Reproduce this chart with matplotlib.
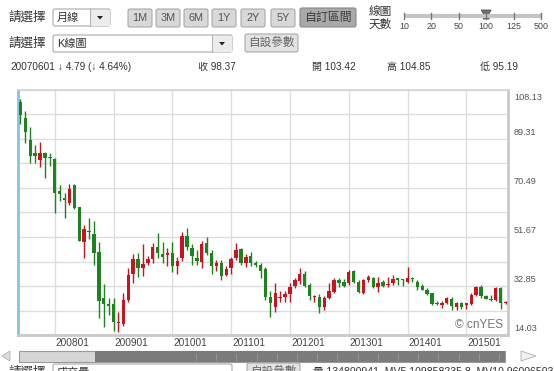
import matplotlib
matplotlib.use('Agg')
import matplotlib.pyplot as plt
import matplotlib.transforms as mtransforms
from matplotlib.patches import Rectangle, FancyBboxPatch, Polygon
import numpy as np

plt.rcParams['font.family'] = ['Liberation Sans', 'Noto Sans CJK TC']

W, H = 554, 371

# monthly K-line, 2007/06 .. 2015/09
first_year, first_month = 2007, 6
opens = [103.42, 97.3, 88.9, 83.8, 81.2, 84.0, 82.5, 81.6, 69.3, 66.5,
         64.6, 71.6, 63.1, 49.9, 54.0, 52.7, 46.0, 28.1, 25.8, 25.9,
         18.5, 18.1, 27.5, 37.5, 43.1, 39.9, 41.6, 43.1, 47.9, 45.1,
         44.8, 45.4, 40.5, 43.5, 52.0, 47.3, 43.5, 42.2, 49.2, 45.4,
         40.7, 41.8, 37.2, 39.6, 43.5, 46.9, 41.8, 44.4, 41.8, 40.9,
         39.3, 28.5, 24.8, 28.3, 28.6, 29.8, 32.8, 34.9, 37.5, 33.4,
         28.5, 28.5, 24.8, 28.1, 30.7, 35.1, 34.5, 34.1, 38.7, 34.5,
         30.2, 35.1, 35.8, 32.3, 34.5, 33.1, 33.9, 35.6, 35.4, 34.5,
         35.6, 34.5, 32.8, 31.5, 30.0, 26.0, 25.6, 26.4, 27.7, 24.9,
         26.2, 25.7, 25.9, 29.4, 32.3, 29.0, 27.7, 27.5, 31.9, 26.4]
highs = [104.85, 100.0, 94.0, 87.0, 88.0, 84.5, 84.0, 82.0, 71.6, 68.4,
         72.0, 72.0, 63.1, 56.3, 59.1, 57.9, 49.9, 33.5, 28.1, 28.1,
         23.0, 30.0, 39.9, 45.0, 45.4, 48.8, 44.5, 49.2, 53.1, 49.9,
         47.3, 49.9, 44.0, 53.6, 55.0, 48.8, 46.7, 50.1, 51.8, 46.7,
         42.8, 42.8, 40.5, 44.1, 49.2, 47.3, 45.0, 46.0, 42.5, 41.8,
         40.0, 31.0, 34.0, 31.0, 31.0, 33.9, 35.8, 39.6, 38.5, 34.0,
         29.5, 29.7, 29.0, 33.9, 36.1, 36.1, 35.5, 38.9, 38.9, 35.1,
         35.5, 37.2, 36.4, 36.4, 35.1, 36.4, 36.9, 35.9, 35.5, 40.0,
         36.4, 35.1, 33.6, 32.0, 30.3, 27.2, 27.2, 28.5, 28.5, 26.6,
         26.6, 26.4, 30.0, 33.0, 33.2, 29.5, 29.4, 32.3, 32.3, 27.0]
lows = [95.19, 87.8, 80.0, 80.0, 78.7, 74.5, 79.0, 61.0, 65.5, 59.1,
        64.0, 62.5, 50.0, 43.5, 50.9, 41.1, 20.4, 17.2, 21.6, 15.6,
        15.3, 17.5, 26.8, 33.9, 36.2, 36.6, 41.0, 41.6, 43.5, 41.6,
        40.5, 38.2, 37.4, 42.5, 46.7, 40.8, 41.0, 39.6, 44.8, 37.4,
        38.6, 35.3, 36.6, 37.3, 42.9, 41.1, 40.0, 40.5, 40.0, 35.8,
        27.3, 21.0, 23.0, 26.6, 26.8, 26.8, 32.2, 33.5, 32.5, 27.5,
        26.8, 22.5, 23.5, 27.7, 30.3, 32.6, 32.5, 33.2, 33.9, 30.0,
        29.7, 34.3, 31.9, 30.7, 32.3, 32.3, 33.4, 33.2, 32.9, 34.1,
        34.3, 31.2, 31.2, 29.4, 25.6, 25.6, 24.3, 25.9, 23.6, 23.5,
        23.9, 24.2, 25.6, 29.0, 28.4, 27.7, 27.0, 27.0, 23.9, 25.8]
closes = [98.37, 92.1, 82.9, 82.9, 83.8, 82.1, 82.0, 68.7, 68.1, 66.0,
          70.1, 62.7, 50.1, 54.6, 53.5, 45.4, 27.1, 25.8, 25.3, 19.1,
          19.1, 27.5, 37.1, 43.1, 39.6, 41.3, 43.2, 47.9, 45.4, 44.1,
          45.5, 40.5, 42.6, 52.0, 47.9, 44.4, 42.6, 49.0, 45.4, 40.5,
          41.8, 36.7, 39.3, 43.1, 46.7, 41.8, 44.1, 41.6, 41.0, 38.7,
          28.5, 26.4, 30.1, 28.7, 29.8, 32.5, 35.2, 37.5, 33.0, 29.0,
          28.7, 24.8, 28.3, 30.9, 35.1, 34.1, 33.0, 38.4, 34.5, 30.5,
          35.1, 36.4, 32.4, 33.9, 32.8, 33.6, 35.4, 35.3, 35.2, 35.8,
          35.4, 32.3, 31.5, 29.8, 25.9, 25.8, 26.2, 28.1, 25.2, 26.4,
          24.9, 25.9, 29.4, 32.3, 29.0, 27.7, 27.5, 31.9, 26.4, 26.6]

price_ticks = [108.13, 89.31, 70.49, 51.67, 32.85, 14.03]

info_date = '20070601'
info_change = '↓ 4.79 (↓ 4.64%)'
period_buttons = ['1M', '3M', '6M', '1Y', '2Y', '5Y']
slider_days = ['10', '20', '50', '100', '125', '500']
slider_value = '100'
volume_text = '量 134800941  MV5 109858235.8  MV10 96006503'

red = '#c8141e'
green = '#1e821e'
txt = '#333333'

fig = plt.figure(figsize=(W / 100, H / 100), dpi=100)
fig.patch.set_facecolor('white')

# ---- main K chart ----
ax = fig.add_axes([18 / W, 1 - 335 / H, 490 / W, 245 / H])
n = len(opens)
x = np.arange(n)
o, hi, lo, c = map(np.array, (opens, highs, lows, closes))
cols = np.where(c >= o, red, green)
ax.vlines(x, lo, hi, colors=cols, lw=1, zorder=3)
body_lo = np.minimum(o, c)
body_h = np.maximum(np.abs(c - o), 0.45)
ax.bar(x, body_h, 0.7, bottom=body_lo, color=cols, linewidth=0, zorder=4)

ax.set_xlim(-0.5, n - 0.5)
ax.set_ylim(min(price_ticks), max(price_ticks))

months = [(first_year + (first_month - 1 + i) // 12, (first_month - 1 + i) % 12 + 1) for i in range(n)]
jan_idx = [i for i, (y, m) in enumerate(months) if m == 1]
jan_lab = ['{}{:02d}'.format(y, m) for (y, m) in months if m == 1]

lo_t, hi_t = min(price_ticks), max(price_ticks)
ax.set_yticks(np.linspace(lo_t, hi_t, 2 * (len(price_ticks) - 1) + 1))
ax.set_xticks(jan_idx)
ax.grid(color='#dddddd', lw=1, zorder=0)
ax.tick_params(length=0, labelbottom=False, labelleft=False)
ax.spines['top'].set_color('#d4d4d4')
ax.spines['top'].set_linewidth(1.2)
for s in ('right', 'bottom'):
    ax.spines[s].set_color('#c9c9c9')
    ax.spines[s].set_linewidth(2)
ax.spines['left'].set_color('#86c3dc')
ax.spines['left'].set_linewidth(2)

for v in price_ticks:
    if v == hi_t:
        tr = mtransforms.offset_copy(ax.get_yaxis_transform(), fig=fig, x=6, y=-3, units='dots')
        va = 'top'
    else:
        tr = mtransforms.offset_copy(ax.get_yaxis_transform(), fig=fig, x=6, y=2, units='dots')
        va = 'bottom'
    ax.text(1.0, v, '{:.2f}'.format(v), transform=tr, va=va, ha='left',
            fontsize=6.6, color='#555555', clip_on=False)

trx = mtransforms.offset_copy(ax.get_xaxis_transform(), fig=fig, x=1, y=-3, units='dots')
for j, lab in zip(jan_idx, jan_lab):
    ax.text(j, 0, lab, transform=trx, va='top', ha='left', fontsize=7.3,
            color='#444444', clip_on=False)

ax.text(0.99, 0.015, '© cnYES', transform=ax.transAxes, ha='right', va='bottom',
        fontsize=8.6, color='#777777', zorder=6)

# ---- surrounding page widgets (pixel coords) ----
ui = fig.add_axes([0, 0, 1, 1])
ui.set_xlim(0, W)
ui.set_ylim(H, 0)
ui.axis('off')
ui.patch.set_alpha(0)


def box(x0, y0, w, h, fc, ec='#a9a9a9', r=2, lw=0.8):
    ui.add_patch(FancyBboxPatch((x0, y0), w, h, boxstyle='round,pad=0,rounding_size={}'.format(r),
                                fc=fc, ec=ec, lw=lw))


def dropdown(x0, y0, w, h, label, sep):
    box(x0, y0, w, h, 'white')
    ui.add_patch(Rectangle((sep, y0 + 0.5), x0 + w - sep - 0.5, h - 1, fc='#ececec', ec='none'))
    ui.plot([sep, sep], [y0, y0 + h], color='#b5b5b5', lw=0.8)
    cx, cy = (sep + x0 + w) / 2, y0 + h / 2
    ui.add_patch(Polygon([(cx - 3, cy - 1.5), (cx + 3, cy - 1.5), (cx, cy + 2)], fc='#222222', ec='none'))
    ui.text(x0 + 4, cy, label, va='center', ha='left', fontsize=8, color=txt)


# row 1
ui.text(8, 17.5, '請選擇', va='center', ha='left', fontsize=9, color=txt)
dropdown(53, 9, 57, 17, '月線', 90)
bx = [128, 156, 184, 212, 241, 271]
for b, lab in zip(bx, period_buttons):
    box(b, 9, 24, 18, '#d8d8d8')
    ui.text(b + 12, 18, lab, va='center', ha='center', fontsize=7.8, color='#555555')
box(300, 8, 56, 19, '#a9a9a9', ec='#888888')
ui.text(328, 17.5, '自訂區間', va='center', ha='center', fontsize=8.6, color='#3a3a3a')

ui.text(369, 12, '線圖', va='center', ha='left', fontsize=8.4, color=txt)
ui.text(369, 25, '天數', va='center', ha='left', fontsize=8.4, color=txt)
sx = np.linspace(404, 541, len(slider_days))
ui.plot([sx[0], sx[-1]], [16, 16], color='#c4c4c4', lw=3, solid_capstyle='butt')
for px, lab in zip(sx, slider_days):
    ui.plot([px, px], [13, 19], color='#777777', lw=1)
    ui.text(px, 26.5, lab, va='center', ha='center', fontsize=6.4, color='#444444')
tx = sx[slider_days.index(slider_value)]
ui.add_patch(Polygon([(tx - 5, 10), (tx + 5, 10), (tx + 2, 15), (tx + 3, 19), (tx - 3, 19), (tx - 2, 15)],
                     fc='#6d6d6d', ec='#555555', lw=0.6))

# row 2
ui.text(8, 44, '請選擇', va='center', ha='left', fontsize=9, color=txt)
dropdown(53, 35, 179, 17, 'K線圖', 212)
box(245, 34, 53, 18, '#e2e2e2')
ui.text(271.5, 43, '自設參數', va='center', ha='center', fontsize=8.4, color='#666666')

# row 3: info for hovered candle
ui.text(10, 67, info_date, va='center', ha='left', fontsize=7.2, color=txt)
ui.text(58, 67, info_change, va='center', ha='left', fontsize=7.2, color=txt)
ui.text(198, 67, '收 {:.2f}'.format(closes[0]), va='center', ha='left', fontsize=7.2, color=txt)
ui.text(312, 67, '開 {:.2f}'.format(opens[0]), va='center', ha='left', fontsize=7.2, color=txt)
ui.text(387, 67, '高 {:.2f}'.format(highs[0]), va='center', ha='left', fontsize=7.2, color=txt)
ui.text(480, 67, '低 {:.2f}'.format(lows[0]), va='center', ha='left', fontsize=7.2, color=txt)

# scrollbar
ui.add_patch(Polygon([(2, 356), (10, 351), (10, 361)], fc='#dddddd', ec='#b0b0b0', lw=0.6))
ui.add_patch(Rectangle((19, 350.5), 486, 11.5, fc='#d6d6d6', ec='#9a9a9a', lw=0.8))
ui.add_patch(Rectangle((95, 351), 410, 10.5, fc='#7b7b7b', ec='none'))
for px in np.arange(196, 500, 20.2):
    ui.plot([px, px], [354, 360], color='#9a9a9a', lw=0.6)
ui.add_patch(Polygon([(521, 351), (521, 361), (536, 356)], fc='#f0f0f0', ec='#b0b0b0', lw=0.6))

# bottom row (cut off by the page edge, as in the screenshot)
ui.text(8, 372.5, '請選擇', va='center', ha='left', fontsize=9, color=txt, clip_on=False)
box(53, 364, 179, 17, 'white')
ui.text(57, 372.5, '成交量', va='center', ha='left', fontsize=8, color=txt)
box(247, 363, 53, 18, '#e2e2e2')
ui.text(273.5, 372, '自設參數', va='center', ha='center', fontsize=8.4, color='#666666')
ui.text(313, 372, volume_text, va='center', ha='left', fontsize=7.6, color=txt)

fig.savefig('out.png', dpi=100)
